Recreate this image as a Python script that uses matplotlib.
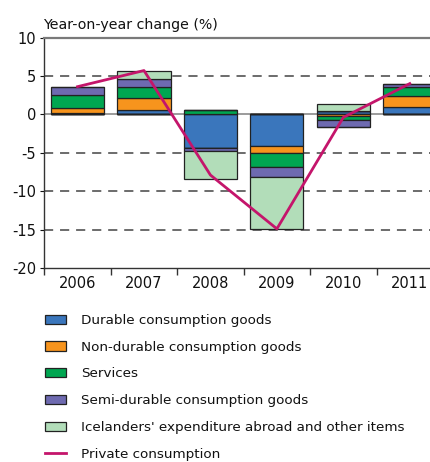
import matplotlib
matplotlib.use("Agg")
import matplotlib.pyplot as plt
import numpy as np
from matplotlib.patches import Patch
from matplotlib.lines import Line2D

years = ["2006", "2007", "2008", "2009", "2010", "2011"]
durable = [0.17, 0.57, -4.35, -4.13, 0.43, 0.92]
non_durable = [0.65, 1.56, 0.1, -0.96, -0.25, 1.5]
services = [1.65, 1.48, 0.4, -1.74, -0.55, 1.2]
semi_durable = [1.04, 1.04, -0.43, -1.3, -0.85, 0.35]
abroad = [0.0, 1.04, -3.65, -6.75, 0.85, 0.0]
private = [3.6, 5.7, -7.9, -14.9, -0.4, 4.0]

labels = ["Durable consumption goods", "Non-durable consumption goods", "Services",
          "Semi-durable consumption goods", "Icelanders' expenditure abroad and other items",
          "Private consumption"]
colors = ["#3A76BC", "#F7941D", "#00A651", "#6E6AB0", "#B2DDB9"]
line_color = "#C4156B"

plt.rcParams['font.family'] = ['DejaVu Sans']
W, H = 431, 462
fig = plt.figure(figsize=(W / 100, H / 100), dpi=100)
ax = fig.add_axes([44.3 / W, 1 - 268 / H, (443 - 44.3) / W, (268 - 37.5) / H])

x = np.arange(len(years))
series = [durable, non_durable, services, semi_durable, abroad]
pos_base = np.zeros(len(years))
neg_base = np.zeros(len(years))
for vals, c in zip(series, colors):
    v = np.array(vals)
    p = np.where(v > 0, v, 0)
    n = np.where(v < 0, v, 0)
    ax.bar(x, p, 0.8, bottom=pos_base, color=c, edgecolor="#222222", linewidth=0.9, zorder=3)
    ax.bar(x, n, 0.8, bottom=neg_base, color=c, edgecolor="#222222", linewidth=0.9, zorder=3)
    pos_base += p
    neg_base += n

ax.plot(x, private, color=line_color, lw=2.0, zorder=5, solid_joinstyle="round")

for yv in [5, -5, -10, -15]:
    ax.axhline(yv, color="#444444", lw=1.1, dashes=(6, 4.5), zorder=1)
ax.axhline(0, color="#8a8a8a", lw=1.2, zorder=1)

ax.set_xlim(-0.5, 5.5)
ax.set_ylim(-20, 10)
ax.set_yticks([10, 5, 0, -5, -10, -15, -20])
ax.set_yticklabels(["10", "5", "0", "-5", "-10", "-15", "-20"])
ax.set_xticks(x)
ax.set_xticklabels(years)
ax.set_xticks(np.arange(-0.5, 6, 1), minor=True)
ax.tick_params(axis="x", which="major", length=0, pad=6, labelsize=10.5, colors="#111111")
ax.tick_params(axis="x", which="minor", length=5, width=1, direction="out", color="#333333")
ax.tick_params(axis="y", length=3, width=0.8, pad=3, labelsize=10.5, colors="#111111")

ax.spines["right"].set_visible(False)
ax.spines["top"].set_color("#7a7a7a")
ax.spines["top"].set_linewidth(1.6)
ax.spines["left"].set_color("#333333")
ax.spines["bottom"].set_color("#333333")
ax.spines["left"].set_linewidth(1.0)
ax.spines["bottom"].set_linewidth(1.0)

fig.text(43 / W, 1 - 25 / H, "Year-on-year change (%)", fontsize=10.2, va="center", ha="left", color="#111111")

handles = [Patch(facecolor=c, edgecolor="#222222", linewidth=0.9) for c in colors]
handles.append(Line2D([0], [0], color=line_color, lw=2.0))
leg = fig.legend(handles, labels, loc="upper left", bbox_to_anchor=(45 / W, 1 - 314 / H),
                 frameon=False, fontsize=9.7, handlelength=1.55, handleheight=0.7,
                 handletextpad=1.15, labelspacing=1.02, borderaxespad=0, borderpad=0)
for t in leg.get_texts():
    t.set_color("#111111")

fig.savefig("out.png", dpi=100)
